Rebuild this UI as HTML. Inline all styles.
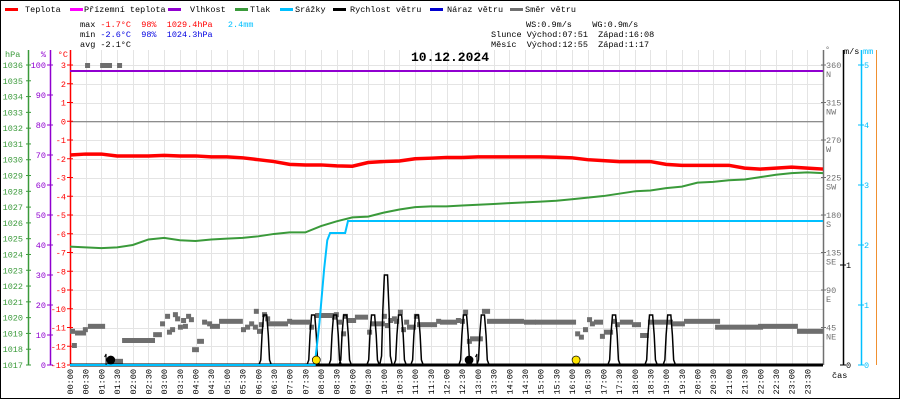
<!DOCTYPE html>
<html><head><meta charset="utf-8">
<style>
html,body{margin:0;padding:0;background:#fff;}
svg{display:block;font-family:"Liberation Mono",monospace;}
text{white-space:pre;}
</style></head>
<body>
<svg id="chart" width="900" height="400" viewBox="0 0 900 400" xmlns="http://www.w3.org/2000/svg" xml:space="preserve">
<rect x="0.5" y="0.5" width="899" height="398" fill="#fff" stroke="#000"/>
<g id="grid"></g>
<g id="legend" font-size="8.5"></g>
<g font-size="8.5">
<text x="80" y="27"><tspan fill="#000">max </tspan><tspan fill="#f00">-1.7°C  98%  1029.4hPa</tspan><tspan fill="#00c0ff">   2.4mm</tspan></text>
<text x="80" y="37"><tspan fill="#000">min </tspan><tspan fill="#0000e0">-2.6°C  98%  1024.3hPa</tspan></text>
<text x="80" y="47" fill="#000">avg -2.1°C</text>
<text x="526" y="27" fill="#000">WS:0.9m/s    WG:0.9m/s</text>
<text x="491" y="37" fill="#000">Slunce Východ:07:51  Západ:16:08</text>
<text x="491" y="47" fill="#000">Měsíc  Východ:12:55  Západ:1:17</text>
</g>
<text x="450" y="61" text-anchor="middle" font-size="13" font-weight="bold" font-family="Liberation Mono, monospace">10.12.2024</text>
<g id="axes"></g>
<g id="marks"></g>
</svg>
<script>
// ---- data ----
const tempValues = [-1.8,-1.75,-1.75,-1.85,-1.85,-1.85,-1.82,-1.85,-1.85,-1.9,-1.9,-1.95,-2.05,-2.15,-2.3,-2.33,-2.33,-2.38,-2.4,-2.2,-2.15,-2.12,-2.0,-1.97,-1.93,-1.93,-1.9,-1.9,-1.9,-1.9,-1.9,-1.92,-1.95,-2.05,-2.1,-2.15,-2.15,-2.15,-2.3,-2.35,-2.35,-2.35,-2.35,-2.5,-2.55,-2.5,-2.45,-2.5,-2.55];
const pressValues = [1024.5,1024.45,1024.4,1024.45,1024.6,1024.95,1025.05,1024.9,1024.85,1024.95,1025.0,1025.05,1025.15,1025.3,1025.4,1025.4,1025.8,1026.1,1026.35,1026.4,1026.65,1026.85,1027.0,1027.05,1027.05,1027.1,1027.15,1027.2,1027.25,1027.3,1027.35,1027.4,1027.5,1027.6,1027.7,1027.85,1028.0,1028.05,1028.2,1028.3,1028.55,1028.6,1028.7,1028.75,1028.9,1029.05,1029.15,1029.2,1029.15];
const humidityValue = 98;
const rainTimes = [0,7.8,7.95,8.1,8.2,8.29,8.77,8.86,24];
const rainValues = [0,0,0.7,1.6,2.08,2.2,2.2,2.4,2.4];
const windPeakTimes = [6.22,7.75,8.45,8.77,9.66,10.07,10.52,11.06,12.59,13.16,17.34,18.52,19.1];
const windPeakValues = [0.5,0.5,0.5,0.5,0.5,0.9,0.5,0.5,0.5,0.5,0.5,0.5,0.5];
const dirStart = [0,0.06,0.16,0.41,0.57,0.48,0.96,1.5,1.18,1.66,2.65,2.87,3.03,3.09,3.19,3.28,3.35,3.44,3.54,3.60,3.70,3.79,3.89,4.05,4.21,4.37,4.46,4.75,5.45,5.58,5.71,5.83,5.86,5.96,6.02,6.12,6.22,6.31,6.92,7.01,7.62,7.81,8.35,8.41,8.51,8.64,8.70,8.83,9.08,9.47,9.56,9.94,10.04,10.14,10.26,10.33,10.45,10.55,10.65,10.74,10.96,11.06,11.67,11.79,12.30,12.43,12.53,12.65,12.75,13.13,13.29,14.47,14.82,16.10,16.22,16.35,16.48,16.57,16.70,16.89,17.02,17.27,17.37,17.53,17.91,18.17,18.42,19.19,19.57,20.56,21.93,23.17];
const dirEnd   = [0,0.06,0.35,0.41,0.96,0.48,1.18,1.5,1.53,2.55,2.77,2.87,3.03,3.09,3.19,3.28,3.35,3.44,3.54,3.60,3.70,3.79,3.95,4.11,4.21,4.37,4.62,5.35,5.45,5.58,5.71,5.83,5.86,5.96,6.02,6.12,6.22,6.79,6.92,7.49,7.62,8.29,8.35,8.41,8.51,8.64,8.70,8.96,9.34,9.47,9.88,9.94,10.04,10.14,10.26,10.33,10.45,10.55,10.65,10.87,10.96,11.54,11.67,12.18,12.30,12.43,12.53,12.65,13.00,13.23,14.31,14.69,15.97,16.10,16.22,16.35,16.48,16.57,16.83,16.89,17.15,17.27,17.37,17.79,18.04,18.29,19.06,19.44,20.56,21.93,23.04,23.84];
const dirValues= [41,24,39,43,47,360,360,360,5,30,37,50,59,40,43,61,56,46,54,47,59,55,19,29,52,50,47,53,43,46,50,46,65,41,49,61,56,50,53,52,46,60,58,61,52,38,59,54,58,40,50,59,48,54,56,53,64,43,52,46,59,49,53,52,54,53,64,29,32,65,53,52,52,38,34,43,55,50,52,35,40,53,49,52,49,36,52,50,53,46,47,41];
const tempTicks = [3,2,1,0,-1,-2,-3,-4,-5,-6,-7,-8,-9,-10,-11,-12,-13];
const pressTicks = [1036,1035,1034,1033,1032,1031,1030,1029,1028,1027,1026,1025,1024,1023,1022,1021,1020,1019,1018,1017];
const humTicks = [100,90,80,70,60,50,40,30,20,10,0];
const dirTicks = [360,315,270,225,180,135,90,45];
const dirNames = ["N","NW","W","SW","S","SE","E","NE"];
const mmTicks = [0,1,2,3,4,5];
const windTicks = [0,1];
const timeLabels = [];
for (let h=0; h<24; h++){ const hh=(h<10?'0':'')+h; timeLabels.push(hh+':00'); timeLabels.push(hh+':30'); }

// ---- scales ----
const X0=70, X1=823, Y0=65, Y1=365;
const xh = h => X0 + h*(X1-X0)/24;
const yT = t => Y0 + (3-t)*(Y1-Y0)/16;
const yP = p => Y1 - (p-1017)*(Y1-Y0)/19;
const yH = v => Y1 - v*(Y1-Y0)/100;
const yD = d => Y1 - d*(Y1-Y0)/360;
const yW = w => Y1 - w*100;
const yM = m => Y1 - m*(Y1-Y0)/5;
const NS='http://www.w3.org/2000/svg';
function mk(tag, parent, attrs){ const e=document.createElementNS(NS,tag); for(const k in attrs) e.setAttribute(k,attrs[k]); parent.appendChild(e); return e; }
const grid=document.getElementById('grid'), axes=document.getElementById('axes'), marks=document.getElementById('marks'), legend=document.getElementById('legend');
const FS=8.5;

// grid
for (let i=0;i<=48;i++){ const x=Math.round(xh(i/2))+0.5;
  const l=mk('line',grid,{x1:x,y1:Y0-15,x2:x,y2:Y1,stroke:'#e4e4e4','stroke-width':1});
  
  
}
tempTicks.forEach(t=>{ const y=Math.round(yT(t))+0.5;
  const l=mk('line',grid,{x1:X0,y1:y,x2:X1,y2:y,stroke:'#e4e4e4','stroke-width':1});
  
  
});
const zl=mk('line',grid,{x1:X0,y1:yT(0)+0.5,x2:X1,y2:yT(0)+0.5,stroke:'#707070','stroke-width':1});



// legend
const legItems=[["Teplota","#f00",5,25],["Přízemní teplota","#f0f",70,84],["Vlhkost","#9000d0",168,190],["Tlak","#3a9a3a",235,250],["Srážky","#00c0ff",280,295],["Rychlost větru","#000",333,350],["Náraz větru","#0000d0",430,447],["Směr větru","#707070",510,525]];
legItems.forEach(it=>{
  const g=mk('g',legend,{});
  
  
  mk('rect',g,{x:it[2],y:8,width:13,height:3,fill:it[1]});
  const t=mk('text',g,{x:it[3],y:12,fill:'#000'}); t.textContent=it[0];
});

// axes
function axisLine(x,color,name,y0){ const l=mk('line',axes,{x1:x+0.5,y1:y0,x2:x+0.5,y2:Y1,stroke:color,'stroke-width':1.5});   }
axisLine(28,'#3a9a3a','pressure-axis',50); axisLine(50,'#9000d0','humidity-axis',50); axisLine(70,'#f00','temperature-axis',50);
axisLine(823,'#707070','direction-axis',50); axisLine(843,'#000','wind-axis',50); axisLine(861,'#00c0ff','rain-axis',50);
const ol=mk('line',axes,{x1:876.5,y1:50,x2:876.5,y2:Y1,stroke:'#f09030','stroke-width':1});  
function unit(x,y,txt,color,name,anchor){ const t=mk('text',axes,{x:x,y:y,fill:color,'font-size':FS,'text-anchor':anchor||'start'}); t.textContent=txt;   }
unit(5,57,'hPa','#3a9a3a','pressure-unit'); unit(46,57,'%','#9000d0','humidity-unit','end'); unit(68,57,'°C','#f00','temperature-unit','end');
unit(825,52,'°','#707070','direction-unit'); unit(844,54,'m/s','#000','wind-unit'); unit(863,54,'mm','#00c0ff','rain-unit');
pressTicks.forEach(p=>{ const y=yP(p); mk('line',axes,{x1:26,y1:y,x2:31,y2:y,stroke:'#3a9a3a'});
  const t=mk('text',axes,{x:23,y:y+3,fill:'#3a9a3a','font-size':FS,'text-anchor':'end'}); t.textContent=p;
    });
humTicks.forEach(v=>{ const y=yH(v); mk('line',axes,{x1:47,y1:y,x2:53,y2:y,stroke:'#9000d0'});
  const t=mk('text',axes,{x:46,y:y+3,fill:'#9000d0','font-size':FS,'text-anchor':'end'}); t.textContent=v;
    });
tempTicks.forEach(v=>{ const y=yT(v); mk('line',axes,{x1:67,y1:y,x2:73,y2:y,stroke:'#f00'});
  const t=mk('text',axes,{x:66,y:y+3,fill:'#f00','font-size':FS,'text-anchor':'end'}); t.textContent=v;
    });
dirTicks.forEach((d,i)=>{ const y=yD(d); mk('line',axes,{x1:821,y1:y,x2:826,y2:y,stroke:'#707070'});
  const t=mk('text',axes,{x:826,y:y+3,fill:'#707070','font-size':FS}); t.textContent=d;
   
  const n=mk('text',axes,{x:826,y:y+12,fill:'#707070','font-size':FS}); n.textContent=dirNames[i];
    });
windTicks.forEach(v=>{ const y=yW(v); mk('line',axes,{x1:840,y1:y,x2:846,y2:y,stroke:'#000'});
  const t=mk('text',axes,{x:846,y:y+3,fill:'#000','font-size':FS}); t.textContent=v;
    });
mmTicks.forEach(v=>{ const y=yM(v); mk('line',axes,{x1:858,y1:y,x2:864,y2:y,stroke:'#00c0ff'});
  const t=mk('text',axes,{x:864,y:y+3,fill:'#00c0ff','font-size':FS}); t.textContent=v;
    });
timeLabels.forEach((s,i)=>{ const x=xh(i/2)+3;
  const t=mk('text',axes,{x:0,y:0,fill:'#000','font-size':FS,'text-anchor':'end',transform:`translate(${x},369) rotate(-90)`}); t.textContent=s;
    });
unit(832,378,'čas','#000','x-axis-title');

// series
const hum=mk('line',marks,{x1:X0,y1:yH(humidityValue),x2:X1,y2:yH(humidityValue),stroke:'#9000d0','stroke-width':2});
 
dirStart.forEach((s,i)=>{ const x0=xh(s), x1=xh(dirEnd[i])+5; const y=yD(dirValues[i]);
  const r=mk('rect',marks,{x:x0,y:y-2,width:x1-x0,height:5,fill:'#6e6e6e'});
    });
let wp=[[X0,Y1]];
windPeakTimes.forEach((t,i)=>{ const v=windPeakValues[i];
  [[-0.2,0],[-0.14,v*0.1],[-0.1,v*0.6],[-0.05,v],[0.05,v],[0.1,v*0.6],[0.14,v*0.1],[0.2,0]].forEach(p=>wp.push([xh(t+p[0]),yW(p[1])])); });
wp.push([X1,Y1]);
const wl=mk('polyline',marks,{points:wp.map(p=>p.join(',')).join(' '),fill:'none',stroke:'#000','stroke-width':1.5});
 
const bl=mk('line',marks,{x1:X0,y1:Y1,x2:X1,y2:Y1,stroke:'#000','stroke-width':3});
 
const rl=mk('polyline',marks,{points:rainTimes.map((t,i)=>xh(t)+','+yM(rainValues[i])).join(' '),fill:'none',stroke:'#00c0ff','stroke-width':2});
 
const pl=mk('polyline',marks,{points:pressValues.map((p,i)=>xh(i/2)+','+yP(p)).join(' '),fill:'none',stroke:'#3a9a3a','stroke-width':2});
 
const tl=mk('polyline',marks,{points:tempValues.map((v,i)=>xh(i/2)+','+yT(v)).join(' '),fill:'none',stroke:'#f00','stroke-width':3.5});
 
const moonSet=1.3, moonRise=12.92, sunRise=7.85, sunSet=16.13;
[[moonSet,'#000','moonset-marker'],[moonRise-0.2,'#000','moonrise-marker'],[sunRise,'#ffe600','sunrise-marker'],[sunSet,'#ffe600','sunset-marker']].forEach(m=>{
  const c=mk('circle',marks,{cx:xh(m[0]),cy:360,r:4,fill:m[1],stroke:'#000','stroke-width':0.7});
    });
[moonSet-0.15, moonRise+0.05].forEach(h=>{ const x=xh(h);
  const l=mk('polyline',marks,{points:`${x},365 ${x},354 ${x-1.5},357`,fill:'none',stroke:'#000','stroke-width':1});
    });
</script>
</body></html>
